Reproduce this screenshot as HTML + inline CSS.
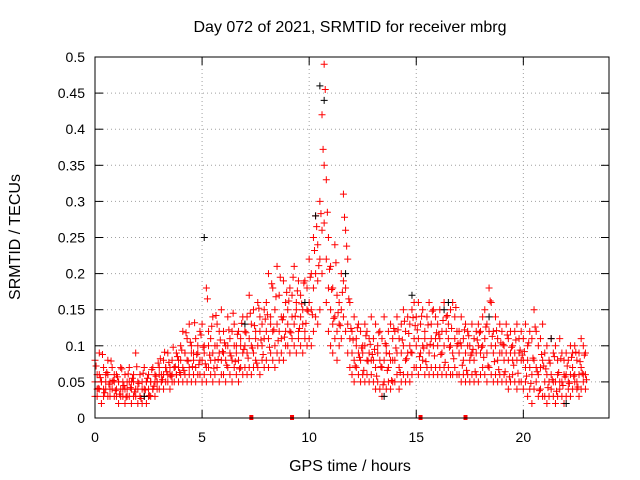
<!DOCTYPE html>
<html><head><meta charset="utf-8">
<style>
html,body{margin:0;padding:0;background:#fff;}
svg{display:block;font-family:"Liberation Sans",sans-serif;}
</style></head>
<body>
<svg id="chart" width="640" height="480" viewBox="0 0 640 480" xmlns="http://www.w3.org/2000/svg">
<rect width="640" height="480" fill="#fff"/>
<text x="350" y="32" font-size="16" text-anchor="middle">Day 072 of 2021, SRMTID for receiver mbrg</text>
<text x="0" y="0" font-size="16" text-anchor="middle" transform="translate(20,237) rotate(-90)">SRMTID / TECUs</text>
<text x="350" y="471" font-size="16" text-anchor="middle">GPS time / hours</text>
<g id="grid"></g>
<g id="ticks"></g>
<g id="points"></g>
<rect x="95" y="57" width="514" height="361" fill="none" stroke="#000" stroke-width="1"/>
</svg>
<script>
const xTicks=[0,5,10,15,20];
const yTicks=[0,0.05,0.1,0.15,0.2,0.25,0.3,0.35,0.4,0.45,0.5];
const yTickLabels=["0","0.05","0.1","0.15","0.2","0.25","0.3","0.35","0.4","0.45","0.5"];
const sampleStep=0.1;
const redUpper=[.08,.06,.09,.05,.07,.06,.08,.05,.07,.06,.06,.05,.07,.04,.06,.05,.07,.05,.06,.09,.05,.06,.04,.07,.05,.06,.05,.07,.06,.05,.07,.06,.08,.07,.09,.06,.08,.07,.09,.08,.10,.12,.09,.11,.13,.10,.09,.11,.10,.12,.13,.10,.18,.12,.11,.14,.10,.13,.12,.15,.12,.10,.14,.11,.12,.13,.10,.12,.11,.14,.12,.14,.17,.13,.15,.12,.16,.14,.13,.15,.16,.20,.14,.18,.15,.21,.17,.14,.19,.16,.15,.18,.17,.21,.16,.19,.17,.15,.19,.18,.22,.20,.25,.28,.24,.30,.42,.49,.33,.25,.21,.18,.24,.17,.16,.20,.31,.26,.22,.16,.12,.14,.11,.13,.12,.10,.13,.12,.11,.14,.11,.13,.10,.12,.11,.14,.10,.12,.13,.11,.12,.14,.11,.13,.15,.12,.14,.13,.15,.16,.14,.16,.13,.15,.12,.14,.16,.13,.15,.14,.13,.15,.12,.16,.14,.13,.15,.16,.14,.12,.12,.14,.11,.13,.12,.10,.13,.11,.12,.13,.12,.14,.15,.13,.18,.16,.12,.14,.11,.13,.12,.10,.13,.11,.12,.10,.12,.13,.11,.12,.11,.13,.10,.12,.11,.15,.12,.10,.11,.13,.09,.10,.08,.11,.09,.10,.08,.11,.09,.08,.09,.08,.10,.09,.10,.08,.09,.11,.10,.09];
const redMiddle=[.05,.04,.06,.05,.04,.05,.06,.04,.05,.05,.04,.05,.04,.05,.04,.04,.05,.04,.05,.04,.04,.03,.05,.04,.05,.04,.05,.04,.05,.05,.06,.05,.06,.07,.06,.07,.06,.07,.06,.07,.08,.07,.09,.08,.07,.09,.08,.07,.09,.08,.08,.09,.07,.10,.08,.09,.08,.10,.09,.08,.09,.08,.10,.09,.08,.10,.09,.08,.10,.09,.10,.09,.11,.10,.09,.11,.10,.12,.10,.11,.12,.11,.13,.12,.10,.13,.12,.11,.14,.12,.13,.12,.14,.13,.15,.12,.14,.13,.12,.15,.16,.15,.18,.20,.19,.22,.26,.35,.22,.18,.15,.13,.14,.12,.13,.15,.19,.18,.13,.11,.09,.08,.10,.09,.08,.09,.10,.08,.09,.08,.08,.07,.09,.08,.07,.08,.09,.07,.08,.08,.08,.09,.07,.09,.10,.08,.09,.10,.09,.11,.10,.11,.09,.10,.11,.10,.09,.11,.10,.11,.10,.11,.09,.10,.12,.11,.10,.09,.11,.10,.09,.10,.08,.09,.10,.08,.09,.08,.09,.10,.09,.10,.11,.09,.12,.10,.09,.10,.08,.09,.09,.08,.09,.08,.09,.08,.09,.08,.09,.08,.08,.07,.08,.07,.06,.08,.07,.06,.07,.08,.05,.06,.05,.06,.05,.05,.06,.05,.05,.06,.06,.05,.06,.07,.06,.05,.06,.07,.06,.06];
const redLower=[.03,.03,.04,.02,.03,.04,.03,.03,.04,.03,.03,.02,.03,.03,.02,.03,.03,.02,.03,.03,.02,.03,.02,.03,.02,.03,.03,.04,.03,.04,.04,.05,.04,.05,.05,.04,.05,.05,.06,.05,.06,.05,.06,.05,.06,.05,.06,.05,.06,.06,.05,.06,.05,.07,.06,.05,.06,.07,.05,.06,.06,.05,.07,.06,.05,.07,.06,.05,.07,.06,.07,.06,.07,.06,.07,.08,.07,.06,.08,.07,.08,.07,.09,.08,.07,.09,.08,.09,.08,.10,.10,.09,.11,.10,.09,.11,.10,.09,.11,.10,.11,.10,.12,.14,.13,.15,.20,.27,.16,.12,.10,.09,.11,.08,.10,.11,.14,.12,.09,.07,.06,.05,.07,.06,.05,.06,.05,.06,.05,.06,.05,.04,.05,.04,.03,.05,.04,.05,.04,.05,.05,.06,.04,.05,.06,.05,.06,.05,.06,.07,.07,.06,.07,.08,.06,.07,.06,.07,.06,.07,.06,.07,.06,.07,.06,.07,.06,.06,.07,.06,.06,.05,.06,.05,.06,.05,.06,.05,.06,.05,.06,.07,.06,.05,.07,.06,.05,.06,.05,.06,.05,.06,.05,.04,.05,.06,.05,.04,.05,.05,.04,.05,.03,.04,.02,.04,.05,.03,.04,.03,.03,.02,.03,.04,.03,.02,.03,.04,.03,.02,.03,.04,.03,.04,.05,.04,.03,.04,.05,.04];
const redExtra=[.072,.041,.056,.088,.035,.063,.047,.079,.052,.038,.057,.033,.068,.045,.029,.061,.042,.055,.036,.071,.048,.027,.062,.039,.055,.031,.067,.044,.058,.076,.082,.053,.091,.064,.077,.058,.098,.071,.085,.063,.094,.066,.118,.079,.105,.071,.132,.088,.074,.115,.098,.075,.165,.087,.127,.069,.142,.081,.108,.092,.104,.073,.122,.086,.145,.078,.116,.068,.131,.095,.118,.083,.145,.097,.128,.076,.152,.108,.088,.137,.143,.098,.186,.122,.168,.107,.195,.136,.112,.174,.162,.118,.195,.141,.176,.124,.158,.187,.131,.148,.195,.143,.232,.265,.211,.283,.372,.455,.285,.206,.178,.138,.215,.146,.128,.174,.278,.238,.165,.124,.108,.072,.125,.084,.097,.066,.114,.079,.102,.088,.095,.058,.118,.071,.046,.103,.066,.089,.052,.124,.097,.122,.063,.108,.134,.082,.117,.091,.139,.128,.122,.085,.141,.097,.078,.129,.102,.148,.086,.118,.116,.088,.135,.077,.142,.098,.124,.082,.153,.103,.104,.073,.122,.066,.114,.087,.095,.064,.108,.118,.098,.084,.126,.072,.162,.113,.078,.121,.067,.104,.102,.064,.115,.057,.098,.073,.108,.062,.094,.087,.092,.058,.104,.048,.083,.126,.064,.038,.088,.072,.068,.042,.076,.053,.085,.037,.063,.082,.045,.057,.072,.048,.084,.058,.091,.043,.078,.062,.087,.053];
const blackHours=[5.1,10.5,10.3,11.7,14.8,16.5,21.3,13.5,7.0,9.8,2.3,22.0,10.7,16.3,18.4];
const blackValues=[0.25,0.46,0.28,0.20,0.17,0.16,0.11,0.03,0.13,0.16,0.03,0.02,0.44,0.15,0.14];
const gapHours=[7.3,9.2,15.2,17.3];

const X0=95,X1=609,Y0=418,Y1=57,XMAX=24,YMAX=0.5;
const xs=h=>X0+(h/XMAX)*(X1-X0);
const ys=v=>Y0-(v/YMAX)*(Y0-Y1);
const NS="http://www.w3.org/2000/svg";
function mk(tag,attrs,parent){const e=document.createElementNS(NS,tag);for(const k in attrs)e.setAttribute(k,attrs[k]);parent.appendChild(e);return e;}
const grid=document.getElementById('grid'),ticks=document.getElementById('ticks'),pts=document.getElementById('points');

yTicks.forEach((v,i)=>{
  const y=ys(v);
  if(i>0&&i<yTicks.length-1){const g=mk('line',{x1:X0,x2:X1,y1:y,y2:y,stroke:'#a0a0a0','stroke-dasharray':'1,3'},grid);
  
  }
  const t=mk('line',{x1:X0,x2:X0+8,y1:y,y2:y,stroke:'#000'},ticks);
  
  
  const t2=mk('line',{x1:X1,x2:X1-8,y1:y,y2:y,stroke:'#000'},ticks);
  
  
  const l=mk('text',{x:X0-10,y:y+5,'font-size':14,'text-anchor':'end'},ticks);
  l.textContent=yTickLabels[i];
  
  
});
xTicks.forEach(h=>{
  const x=xs(h);
  if(h>0){const g=mk('line',{x1:x,x2:x,y1:Y0,y2:Y1,stroke:'#a0a0a0','stroke-dasharray':'1,3'},grid);
  
  }
  const t=mk('line',{x1:x,x2:x,y1:Y0,y2:Y0-8,stroke:'#000'},ticks);
  
  
  const t2=mk('line',{x1:x,x2:x,y1:Y1,y2:Y1+8,stroke:'#000'},ticks);
  
  
  const l=mk('text',{x:x,y:Y0+24,'font-size':14,'text-anchor':'middle'},ticks);
  l.textContent=String(h);
  
  
});

function plus(h,v,color,name){
  const x=xs(h),y=ys(v);
  const p=mk('path',{d:`M${x-3.5} ${y}h7M${x} ${y-3.5}v7`,stroke:color,'stroke-width':1,fill:'none'},pts);
  
  
}
[redUpper,redMiddle,redLower].forEach(series=>{
  series.forEach((v,i)=>{
    plus(i*sampleStep,v,'#ff0000','srmtid-point');
  });
});
redExtra.forEach((v,i)=>{
  plus(i*sampleStep+sampleStep/2,v,'#ff0000','srmtid-point');
});
blackHours.forEach((h,i)=>{
  plus(h,blackValues[i],'#000000','srmtid-point-black');
});
gapHours.forEach(h=>{
  const r=mk('rect',{x:xs(h)-2,y:Y0-3,width:4,height:5,fill:'#ff0000'},pts);
  
  
});
</script>
</body></html>
